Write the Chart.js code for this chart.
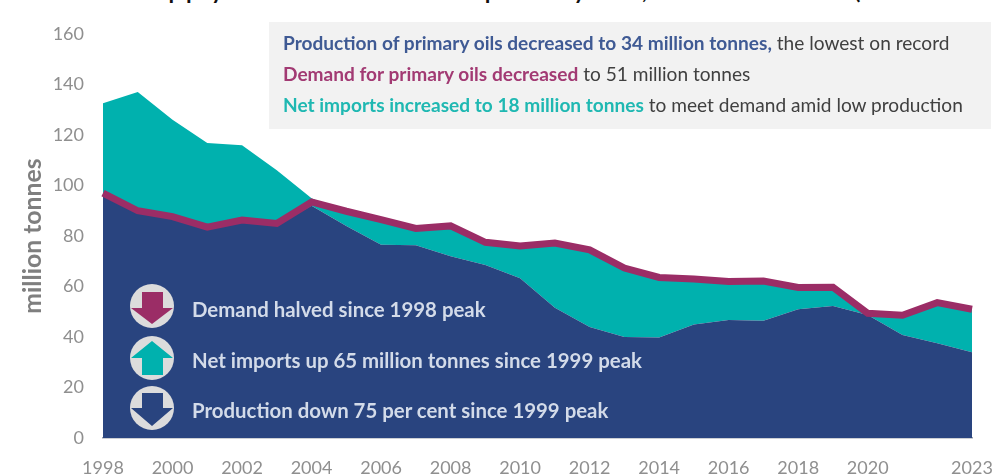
<!DOCTYPE html>
<html lang="en">
<head>
<meta charset="utf-8">
<title>Primary oils supply and demand</title>
<script src="https://cdn.jsdelivr.net/npm/chart.js@4/dist/chart.umd.min.js"></script>
<style>
  html, body { margin: 0; padding: 0; background: #fff; }
  #stage { position: relative; width: 996px; height: 475px; overflow: hidden; font-family: Lato, "Open Sans", sans-serif; }
  #panel { position: absolute; left: 269px; top: 22px; width: 722px; height: 107px; background: #f2f2f2; }
  #chart { position: absolute; left: 0; top: 0; }
  .heading { position: absolute; top: -32px; font-size: 31px; line-height: 36px; color: #111; white-space: nowrap; font-family: Lato, sans-serif; }
  .note { position: absolute; left: 283px; font-size: 19.1px; line-height: 24px; color: #404040; white-space: nowrap; }
  .note b { font-weight: 700; }
  .callout { position: absolute; left: 192px; font-size: 20.4px; line-height: 24px; font-weight: 700; color: #d3dbe9; white-space: nowrap; }
  #icons { position: absolute; left: 0; top: 0; }
</style>
</head>
<body>
<div id="stage">
  <div class="heading" style="left:134px">Supply and demand of</div>
  <div class="heading" style="left:484px">primary oils, 1998 to 2023 (million tonnes)</div>
  <div id="panel"></div>
  <canvas id="chart" width="996" height="475"></canvas>
  <div class="note" style="top:31px"><b style="color:#3f5a94">Production of primary oils decreased to 34 million tonnes,</b> the lowest on record</div>
  <div class="note" style="top:62px"><b style="color:#a23a73">Demand for primary oils decreased</b> to 51 million tonnes</div>
  <div class="note" style="top:93px"><b style="color:#1fb8b2">Net imports increased to 18 million tonnes</b> to meet demand amid low production</div>
  <svg id="icons" width="996" height="475" viewBox="0 0 996 475">
    <circle cx="152" cy="306" r="22" fill="#dcdcdc"/>
    <polygon points="142,292 163,292 163,308 173,308 152,324 131,308 142,308" fill="#9b2d66"/>
    <circle cx="152" cy="358" r="22" fill="#dcdcdc"/>
    <polygon points="152,341 173,358 163,358 163,375 142,375 142,358 131,358" fill="#00b1ae"/>
    <circle cx="152" cy="408" r="22" fill="#dcdcdc"/>
    <polygon points="142,393 163,393 163,408 173,408 152,426 131,408 142,408" fill="#29447f"/>
  </svg>
  <div class="callout" style="top:297px">Demand halved since 1998 peak</div>
  <div class="callout" style="top:348px">Net imports up 65 million tonnes since 1999 peak</div>
  <div class="callout" style="top:398px">Production down 75 per cent since 1999 peak</div>
</div>
<script>
// Annual figures in million tonnes
const years = [1998,1999,2000,2001,2002,2003,2004,2005,2006,2007,2008,2009,2010,2011,2012,2013,2014,2015,2016,2017,2018,2019,2020,2021,2022,2023];
const production = [96,89,87,83,85.5,84.5,92,84,76.5,76.3,72,68.5,63.3,51.6,44,40,39.8,45,46.7,46.4,51,52.3,48.7,40.8,37.5,34];
const netImports = [36.6,48,39,33.8,30.4,21.5,3,5,9,6.2,11,8.5,12,25,29.5,26.5,23,17.5,14.8,15.3,8,6.9,0.2,7.3,15.5,18];
const demand = [97,90,87.7,83.5,86.3,85,93.5,89.8,86.5,83,84,77.5,76,77.2,74.5,67.3,63.6,63,62,62.2,59.6,59.7,49.4,48.6,53.6,51];
const xTickLabels = [1998,2000,2002,2004,2006,2008,2010,2012,2014,2016,2018,2020,2023];
const yTicks = [0,20,40,60,80,100,120,140,160];

const NAVY = '#29447f', TEAL = '#00b1ae', MAROON = '#9b2d66', TICK = '#8f8f8f';

new Chart(document.getElementById('chart'), {
  type: 'line',
  data: {
    labels: years,
    datasets: [
      { label: 'Demand', data: demand, stack: 'demand', borderColor: MAROON, borderWidth: 7, fill: false, pointRadius: 0, tension: 0, order: 0, borderJoinStyle: 'miter', clip: false },
      { label: 'Production', data: production, stack: 'supply', borderWidth: 0, backgroundColor: NAVY, fill: 'origin', pointRadius: 0, tension: 0, order: 1 },
      { label: 'Net imports', data: netImports, stack: 'supply', borderWidth: 0, backgroundColor: TEAL, fill: '-1', pointRadius: 0, tension: 0, order: 2 }
    ]
  },
  options: {
    responsive: false,
    animation: false,
    layout: { padding: { top: 34, right: 24, left: 0, bottom: 0 } },
    plugins: { legend: { display: false }, title: { display: false }, tooltip: { enabled: false } },
    scales: {
      x: {
        type: 'category',
        offset: false,
        grid: { display: false, drawTicks: false },
        border: { display: true, color: '#9aa0aa', width: 1.5 },
        // Keep the last year's label from pulling the plot edge inwards
        afterFit(scale) { scale.height = 37; scale.paddingRight = 0; },
        ticks: {
          autoSkip: false, maxRotation: 0, minRotation: 0, padding: 19,
          color: TICK, font: { family: 'Lato', size: 18 },
          callback(value) { const y = this.getLabelForValue(value); return xTickLabels.includes(y) ? String(y) : ''; }
        }
      },
      y: {
        stacked: true,
        min: 0, max: 160,
        afterFit(scale) { scale.width = 103; },
        afterBuildTicks(scale) { scale.ticks = yTicks.map(v => ({ value: v })); },
        grid: { display: false, drawTicks: false },
        border: { display: false },
        title: { display: true, text: 'million tonnes', color: '#7f7f7f', font: { family: 'Lato', size: 24.8, weight: '700' }, padding: { top: 18, bottom: 0 } },
        ticks: { padding: 19, color: TICK, font: { family: 'Lato', size: 18 } }
      }
    }
  }
});
</script>
</body>
</html>
